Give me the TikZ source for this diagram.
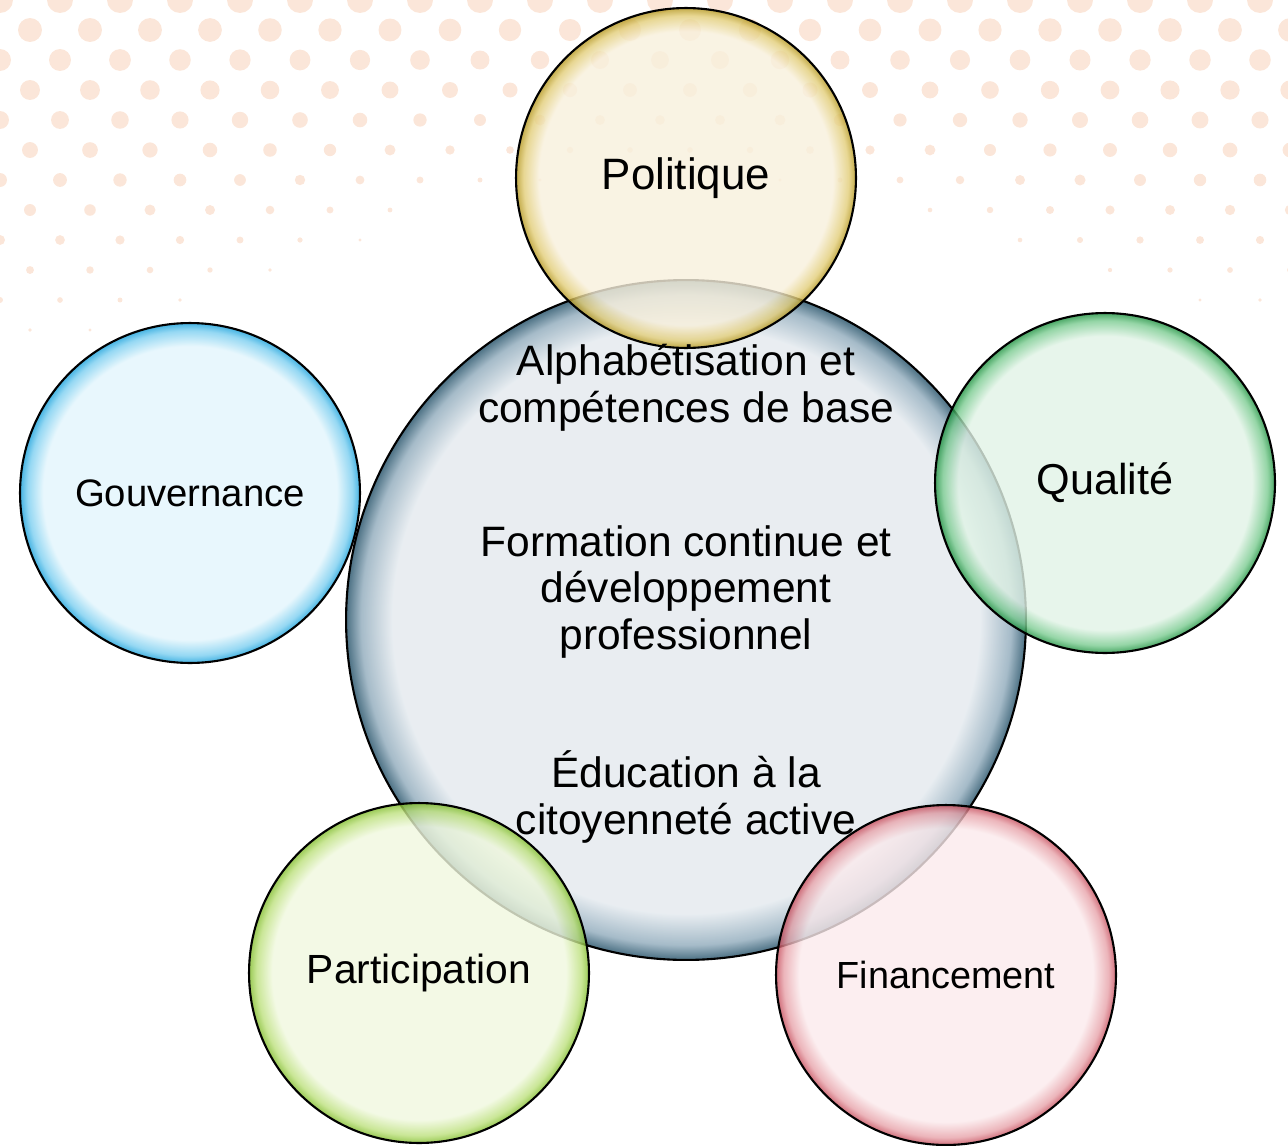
\documentclass[tikz,border=0pt]{standalone}
\usepackage{fontspec}
\setmainfont{Liberation Sans}

\definecolor{dotorange}{HTML}{FBE6D9}
\colorlet{bubin}{white}
\colorlet{bubmid}{gray}
\colorlet{bubout}{black}
\pgfdeclareradialshading[bubin,bubmid,bubout]{bubble}{\pgfpoint{0bp}{0bp}}%
  {color(0bp)=(bubin); color(21.6bp)=(bubin); color(23.9bp)=(bubmid); color(25bp)=(bubout); color(50bp)=(bubout)}

\tikzset{
  bubble/.style n args={4}{circle, draw=black, line width=1.2pt, minimum size=#1,
    inner sep=0pt, /utils/exec={\definecolor{bubin}{HTML}{#2}\definecolor{bubmid}{HTML}{#3}\definecolor{bubout}{HTML}{#4}},
    shading=bubble, fill opacity=0.8, text opacity=1},
  label/.style={align=center, font=\fontsize{24.2pt}{26.6pt}\selectfont},
}

\begin{document}
\begin{tikzpicture}[x=0.02cm, y=-0.02cm]
    \clip (0,0) rectangle (1288,1146);
    % halftone dots in the background
    \foreach \i in {0,...,22}
    \foreach \j in {0,...,13} {
        \pgfmathsetmacro\px{\i*60 + mod(\j,2)*30}
        \pgfmathsetmacro\py{\j*30}
        \pgfmathsetmacro\ym{260 + 90*cos(360*(\px/1288)) + 40*(1 - \px/1288)}
        \pgfmathsetmacro\r{max(0, 13*(1 - \py/\ym))}
        \ifdim\r pt>1.5pt \fill[dotorange] (\px,\py) circle[radius=\r]; \fi
    }
    % the bubbles
    \node[bubble={13.6cm}{E3E9EE}{8FAABB}{1E4C64}] (centre) at (686,620) {};
    \node[bubble={6.8cm}{F8F0DC}{E2CD78}{B4961C}, font=\fontsize{25pt}{28pt}\selectfont] (politique) at (686,178) {Politique};
    \node[bubble={6.8cm}{E1F3E6}{7ACB90}{1C913E}, font=\fontsize{24.6pt}{28pt}\selectfont] (qualite) at (1105,483) {Qualité};
    \node[bubble={6.8cm}{E2F5FC}{7ACEF0}{16A0DB}, font=\fontsize{21.8pt}{24pt}\selectfont] (gouvernance) at (190,493) {Gouvernance};
    \node[bubble={6.8cm}{F0F8DE}{BCE07C}{80BC2A}, font=\fontsize{23.2pt}{26pt}\selectfont] (participation) at (419,973) {Participation};
    \node[bubble={6.8cm}{FBEAEC}{E7A2A9}{C64C5B}, font=\fontsize{21.5pt}{24pt}\selectfont] (financement) at (946,975) {Financement};
    % texts of the centre
    \node[label] (alpha) at (686,388) {Alphabétisation et\\compétences de base};
    \node[label] (forma) at (686,592) {Formation continue et\\développement\\professionnel};
    \node[label] (educ) at (686,797) {Éducation à la\\citoyenneté active};
\end{tikzpicture}
\end{document}
